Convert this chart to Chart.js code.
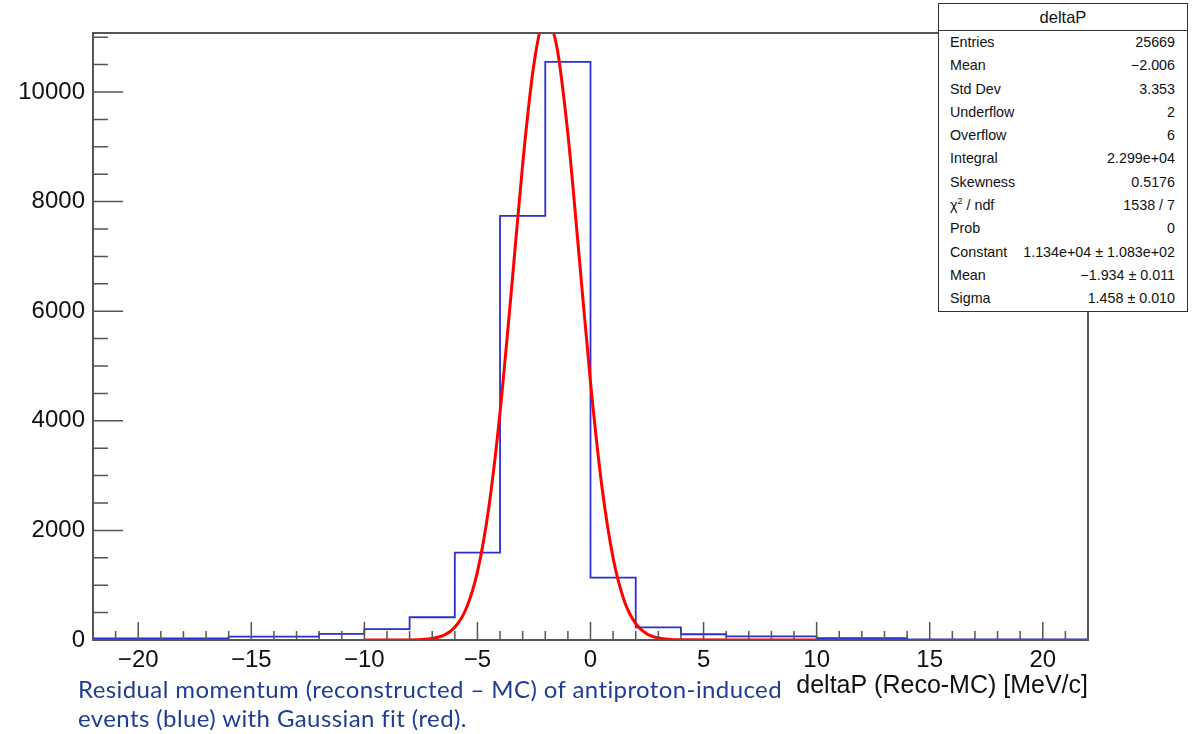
<!DOCTYPE html>
<html>
<head>
<meta charset="utf-8">
<title>deltaP</title>
<script src="https://cdn.jsdelivr.net/npm/chart.js@4.4.1/dist/chart.umd.min.js"></script>
<style>
  html, body { margin: 0; padding: 0; background: #fff; overflow: hidden; }
  #wrap { position: relative; width: 1195px; height: 734px; }
  #chart { position: absolute; left: 0; top: 0; }
  .stats {
    position: absolute; left: 938px; top: 3px; width: 250px; height: 309px;
    box-sizing: border-box; border: 1.5px solid #333; background: #fff;
    font-family: 'Liberation Sans', Arial, sans-serif; color: #111;
  }
  .stats .head {
    height: 26px; line-height: 26px; text-align: center; font-size: 16.5px;
    border-bottom: 1.5px solid #333;
  }
  .stats .row {
    display: flex; justify-content: space-between; height: 23.3px; line-height: 23.3px;
    font-size: 14.3px; padding: 0 12px 0 11px;
  }
  .stats sup { font-size: 9px; line-height: 0; vertical-align: 6px; }
  .caption {
    position: absolute; left: 78px; top: 674px;
    font-family: Lato, 'Open Sans', sans-serif; font-size: 24px; line-height: 29px;
    letter-spacing: 0.4px; color: #1f3d94;
  }
</style>
</head>
<body>
<div id="wrap">
  <canvas id="chart" width="1195" height="734"></canvas>
  <div class="stats" id="stats"></div>
  <div class="caption">Residual momentum (reconstructed – MC) of antiproton-induced<br>events (blue) with Gaussian fit (red).</div>
</div>
<script>
// histogram: 22 bins of 2 MeV/c from -22 to 22
const binEdges  = [-22, -20, -18, -16, -14, -12, -10, -8, -6, -4, -2, 0, 2, 4, 6, 8, 10, 12, 14, 16, 18, 20, 22]
const binCounts = [30, 30, 30, 60, 60, 110, 200, 415, 1595, 7740, 10550, 1140, 230, 105, 65, 65, 35, 35, 10, 10, 10, 10]

// gaussian fit curve, drawn over [-10, 10]
const fitX = [-10, -8, -7, -6.5, -6, -5.5, -5, -4.5, -4, -3.5, -3, -2.5, -2, -1.5, -1, -0.5, 0, 0.5, 1, 1.5, 2, 2.5, 3, 4, 6, 10]
const fitY = [0, 2, 27, 84, 232, 570, 1243, 2410, 4155, 6369, 8681, 10517, 11328, 10849, 9236, 6991, 4705, 2815, 1497, 708, 298, 111, 37, 3, 0, 0]

const xTicks = [-20, -15, -10, -5, 0, 5, 10, 15, 20]
const yTicks = [0, 2000, 4000, 6000, 8000, 10000]
const xMin = -22, xMax = 22
const yMax = 11077

const statLabels = ['Entries', 'Mean', 'Std Dev', 'Underflow', 'Overflow', 'Integral', 'Skewness', 'χ<sup>2</sup> / ndf', 'Prob', 'Constant', 'Mean', 'Sigma']
const statValues = ['25669', '−2.006', '3.353', '2', '6', '2.299e+04', '0.5176', '1538 / 7', '0', '1.134e+04 ± 1.083e+02', '−1.934 ± 0.011', '1.458 ± 0.010']

document.getElementById('stats').innerHTML = `
  <div class="head">deltaP</div>
  ${statLabels.map((l, i) => `<div class="row"><span>${l}</span><span>${statValues[i]}</span></div>`).join('')}
`

const histPoints = binCounts.map((c, i) => ({ x: binEdges[i], y: c }))
histPoints.push({ x: binEdges[binEdges.length - 1], y: binCounts[binCounts.length - 1] })
const fitPoints = fitX.map((x, i) => ({ x, y: fitY[i] }))

const AXIS = '#555'
const FONT = "'Liberation Sans', Arial, sans-serif"

// frame plus ROOT-style ticks pointing into the pad
const rootFrame = {
  id: 'rootFrame',
  afterDatasetsDraw(chart) {
    const { ctx, chartArea: a, scales: { x, y } } = chart
    ctx.save()
    ctx.strokeStyle = AXIS
    ctx.lineWidth = 1.5
    ctx.beginPath()
    for (let v = xMin; v <= xMax; v += 1) {
      const px = x.getPixelForValue(v)
      const len = v % 5 === 0 ? 18 : 9
      ctx.moveTo(px, a.bottom)
      ctx.lineTo(px, a.bottom - len)
    }
    for (let v = 0; v <= yMax; v += 500) {
      const py = y.getPixelForValue(v)
      const len = v % 2000 === 0 ? 30 : 15
      ctx.moveTo(a.left, py)
      ctx.lineTo(a.left + len, py)
    }
    ctx.stroke()
    ctx.lineWidth = 2
    ctx.strokeRect(a.left, a.top, a.right - a.left, a.bottom - a.top)
    ctx.restore()
  }
}

const fmt = v => (v < 0 ? '−' + Math.abs(v) : String(v))

new Chart(document.getElementById('chart'), {
  type: 'line',
  data: {
    datasets: [
      {
        label: 'fit',
        data: fitPoints,
        borderColor: '#ff0000',
        borderWidth: 3,
        pointRadius: 0,
        cubicInterpolationMode: 'monotone',
        order: 0,
      },
      {
        label: 'deltaP',
        data: histPoints,
        borderColor: 'rgb(45,45,210)',
        borderWidth: 1.8,
        pointRadius: 0,
        stepped: 'before',
        order: 1,
      },
    ],
  },
  options: {
    responsive: false,
    animation: false,
    layout: { padding: { top: 33, right: 107, left: 0, bottom: 0 } },
    plugins: { legend: { display: false }, tooltip: { enabled: false } },
    scales: {
      x: {
        type: 'linear',
        min: xMin, max: xMax,
        grid: { display: false, drawTicks: false },
        border: { display: false },
        afterBuildTicks: s => { s.ticks = xTicks.map(v => ({ value: v })) },
        afterFit: s => { s.height = 94 },
        ticks: { color: '#111', font: { family: FONT, size: 24 }, padding: 6, maxRotation: 0, callback: fmt },
        title: {
          display: true, text: 'deltaP (Reco-MC) [MeV/c]', align: 'end',
          color: '#111', font: { family: FONT, size: 25 }, padding: { top: 0, bottom: 33 },
        },
      },
      y: {
        min: 0, max: yMax,
        grid: { display: false, drawTicks: false },
        border: { display: false },
        afterBuildTicks: s => { s.ticks = yTicks.map(v => ({ value: v })) },
        afterFit: s => { s.width = 93 },
        ticks: { color: '#111', font: { family: FONT, size: 24 }, padding: 8, callback: fmt },
      },
    },
  },
  plugins: [rootFrame],
})
</script>
</body>
</html>
